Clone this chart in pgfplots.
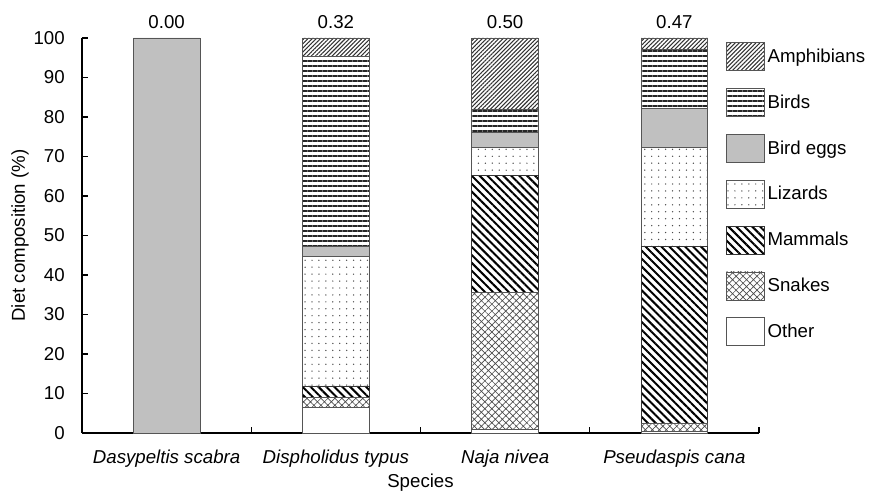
\documentclass[border=0pt]{standalone}
\usepackage{pgfplots}
\pgfplotsset{compat=1.18}
\usepackage{fontspec}
\setmainfont{Liberation Sans}
\usetikzlibrary{patterns.meta}

\definecolor{edge}{HTML}{555555}
\definecolor{eggs}{HTML}{C0C0C0}
\newcommand{\lbl}{\fontsize{14}{16}\selectfont}

\begin{document}
\begin{tikzpicture}
\begin{axis}[
    ybar stacked, scale only axis,
    width=507.75pt, height=296.25pt,
    bar width=50pt,
    xmin=-0.5, xmax=3.5, ymin=0, ymax=100,
    axis lines*=left, axis line style={line width=1pt, -},
    xtick={0,1,2,3},
    xticklabels={\textit{Dasypeltis scabra},\textit{Dispholidus typus},\textit{Naja nivea},\textit{Pseudaspis cana}},
    minor xtick={0.5,1.5,2.5,3.5},
    major x tick style={draw=none},
    minor tick length=4.3pt,
    ytick={0,10,...,100},
    major tick length=4.3pt,
    tick align=inside, tick style={black, line width=0.8pt},
    xticklabel style={anchor=base, yshift=-22.5pt},
    yticklabel style={xshift=-9.4pt},
    /pgf/number format/assume math mode=true,
    ticklabel style={font=\lbl},
    label style={font=\lbl},
    xlabel={Species}, ylabel={Diet composition (\%)},
    xlabel style={at={(axis description cs:0.5,-0.1385)}, anchor=base},
    ylabel style={at={(axis description cs:-0.0916,0.5)}, anchor=center},
    clip=false,
    reverse legend,
    legend style={draw=none, fill=none, inner sep=0pt, at={(axis description cs:0.951,0.99)}, anchor=north west,
        font=\lbl, row sep=12.8pt,
        /tikz/every even column/.append style={column sep=5pt}},
    legend cell align=left,
    legend image code/.code={\draw[#1] (0pt,-10.5pt) rectangle (28.5pt,10.5pt);},
]
\addplot[fill=white, draw=edge, line width=0.6pt] coordinates {(0,0) (1,6.5) (2,0.8) (3,0.3)};
\addlegendentry{Other}
\addplot[draw=edge, line width=0.6pt, pattern={Hatch[angle=45, distance=3.7pt, line width=0.5pt]}, pattern color=black!70] coordinates {(0,0) (1,2.4) (2,34.7) (3,2.1)};
\addlegendentry{Snakes}
\addplot[draw=black!80, line width=0.6pt, pattern={Lines[angle=-45, distance=4.2pt, line width=1.5pt]}, pattern color=black] coordinates {(0,0) (1,3.0) (2,29.8) (3,44.9)};
\addlegendentry{Mammals}
\addplot[draw=edge, line width=0.6pt, pattern={Dots[distance=5.2pt, radius=0.55pt]}, pattern color=black!70] coordinates {(0,0) (1,32.7) (2,7.0) (3,25.0)};
\addlegendentry{Lizards}
\addplot[fill=eggs, draw=edge, line width=0.6pt] coordinates {(0,100) (1,2.7) (2,3.8) (3,9.9)};
\addlegendentry{Bird eggs}
\addplot[draw=edge, line width=0.6pt, pattern={Lines[angle=0, distance=3.75pt, line width=0.8pt]}, pattern color=black!85] coordinates {(0,0) (1,48.1) (2,5.9) (3,15.0)};
\addlegendentry{Birds}
\addplot[draw=edge, line width=0.6pt, pattern={Lines[angle=45, distance=2.2pt, line width=0.8pt]}, pattern color=black!80] coordinates {(0,0) (1,4.6) (2,18.0) (3,2.8)};
\addlegendentry{Amphibians}
\node[anchor=base, font=\lbl, yshift=7.3pt] at (axis cs:0,100) {0.00};
\node[anchor=base, font=\lbl, yshift=7.3pt] at (axis cs:1,100) {0.32};
\node[anchor=base, font=\lbl, yshift=7.3pt] at (axis cs:2,100) {0.50};
\node[anchor=base, font=\lbl, yshift=7.3pt] at (axis cs:3,100) {0.47};
\coordinate (O) at (rel axis cs:0,0);
\end{axis}
\pgfresetboundingbox
\path (O) ++(-61.5pt,-47.25pt) rectangle ++(654.75pt,372pt);
\end{tikzpicture}
\end{document}
